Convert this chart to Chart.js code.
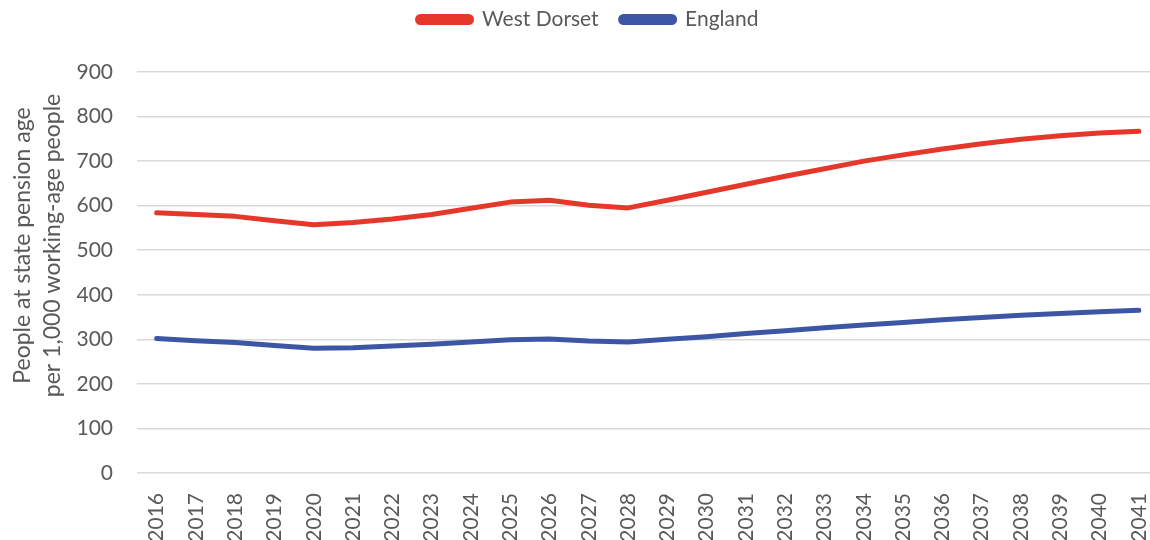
<!DOCTYPE html>
<html>
<head>
<meta charset="utf-8">
<script src="https://cdn.jsdelivr.net/npm/chart.js@4.4.1/dist/chart.umd.min.js"></script>
<style>
  html, body { margin: 0; padding: 0; background: #fff; overflow: hidden; }
  #wrap { width: 1176px; height: 540px; position: relative; }
</style>
</head>
<body>
<div id="wrap"><canvas id="ratioChart"></canvas></div>
<script>
const years = [2016, 2017, 2018, 2019, 2020, 2021, 2022, 2023, 2024, 2025, 2026, 2027, 2028,
               2029, 2030, 2031, 2032, 2033, 2034, 2035, 2036, 2037, 2038, 2039, 2040, 2041];
const westDorset = [584, 580, 576, 566, 557, 562, 570, 580, 594, 608, 612, 601, 595,
                    612, 630, 648, 666, 683, 700, 714, 727, 739, 749, 757, 763, 767];
const england = [302, 297, 293, 286, 280, 281, 285, 289, 294, 299, 301, 296, 294,
                 300, 306, 313, 319, 326, 332, 338, 344, 349, 354, 358, 362, 365];
const yTicks = [0, 100, 200, 300, 400, 500, 600, 700, 800, 900];
const yTitle = ['People at state pension age', 'per 1,000 working-age people'];

const textColor = '#595959';
const fontFamily = 'Lato, "Noto Sans", sans-serif';
const baseFont = { family: fontFamily, size: 21 };

// extra room between the legend and the plot area
const legendGap = {
    id: 'legendGap',
    beforeInit(chart) {
        const fit = chart.legend.fit;
        chart.legend.fit = function() {
            fit.bind(chart.legend)();
            this.height += 32;
        };
    }
};

// two-line rotated title for the value axis, sitting a bit above the plot's middle
const valueAxisTitle = {
    id: 'valueAxisTitle',
    afterDraw(chart) {
        const ctx = chart.ctx;
        const area = chart.chartArea;
        const cy = (area.top + area.bottom) / 2 - 27;
        ctx.save();
        ctx.fillStyle = textColor;
        ctx.font = '23px ' + fontFamily;
        ctx.textAlign = 'center';
        ctx.textBaseline = 'middle';
        yTitle.forEach((line, i) => {
            ctx.save();
            ctx.translate(23 + i * 30, cy);
            ctx.rotate(-Math.PI / 2);
            ctx.fillText(line, 0, 0);
            ctx.restore();
        });
        ctx.restore();
    }
};

const config = {
    type: 'line',
    data: {
        labels: years,
        datasets: [{
            label: 'West Dorset',
            data: westDorset,
            borderColor: '#E5382A',
            backgroundColor: '#E5382A',
            borderWidth: 5,
            pointRadius: 0,
            borderCapStyle: 'round',
            borderJoinStyle: 'round',
            tension: 0
        }, {
            label: 'England',
            data: england,
            borderColor: '#3C56A5',
            backgroundColor: '#3C56A5',
            borderWidth: 5,
            pointRadius: 0,
            borderCapStyle: 'round',
            borderJoinStyle: 'round',
            tension: 0
        }]
    },
    options: {
        responsive: true,
        maintainAspectRatio: false,
        animation: false,
        layout: { padding: { top: -13, left: 0, right: 0, bottom: 0 } },
        scales: {
            x: {
                offset: true,
                grid: { display: false },
                border: { display: false },
                ticks: {
                    color: textColor,
                    font: baseFont,
                    maxRotation: 90,
                    minRotation: 90,
                    autoSkip: false,
                    padding: 12
                },
                afterFit: function(scale) { scale.height = 67; }
            },
            y: {
                min: 0,
                max: 900,
                afterBuildTicks: function(scale) {
                    scale.ticks = yTicks.map(v => ({ value: v }));
                },
                grid: { color: '#D9D9D9', lineWidth: 1.5, drawTicks: false },
                border: { display: false },
                ticks: { color: textColor, font: baseFont, padding: 24 },
                afterFit: function(scale) { scale.width = 137; }
            }
        },
        plugins: {
            legend: {
                position: 'top',
                labels: {
                    color: textColor,
                    font: baseFont,
                    boxWidth: 54,
                    boxHeight: 6,
                    useBorderRadius: true,
                    borderRadius: 3,
                    padding: 22
                }
            },
            tooltip: { enabled: false }
        }
    },
    plugins: [legendGap, valueAxisTitle]
};

const ratioChart = new Chart(document.getElementById('ratioChart'), config);
</script>
</body>
</html>
